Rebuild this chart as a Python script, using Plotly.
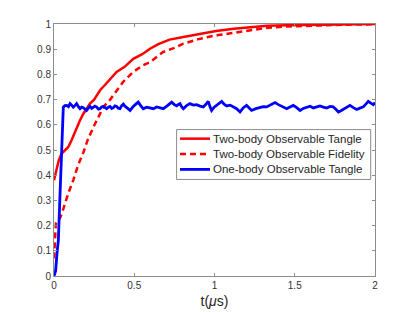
import plotly.graph_objects as go

# Two-body Observable Tangle (solid red)
t_tangle = [0, 0.01, 0.02, 0.03, 0.048, 0.07, 0.089, 0.11, 0.141, 0.16, 0.183, 0.205,
            0.224, 0.25, 0.287, 0.32, 0.35, 0.39, 0.44, 0.494, 0.55, 0.598, 0.65, 0.72,
            0.806, 0.85, 0.91, 1.01, 1.12, 1.22, 1.33, 1.45, 1.6, 1.8, 2.0]
v_tangle = [0.38, 0.41, 0.44, 0.46, 0.486, 0.50, 0.512, 0.54, 0.59, 0.615, 0.644, 0.665,
            0.684, 0.70, 0.737, 0.76, 0.78, 0.81, 0.83, 0.862, 0.88, 0.902, 0.92, 0.938,
            0.948, 0.953, 0.961, 0.972, 0.981, 0.986, 0.993, 0.995, 0.997, 0.998, 1.0]

# Two-body Observable Fidelity (dashed red)
t_fid = [0, 0.005, 0.012, 0.02, 0.037, 0.05, 0.069, 0.09, 0.12, 0.15, 0.183, 0.21, 0.245,
         0.275, 0.307, 0.35, 0.39, 0.43, 0.494, 0.55, 0.6, 0.68, 0.75, 0.806, 0.9, 1.01,
         1.1, 1.2, 1.33, 1.45, 1.6, 1.8, 2.0]
v_fid = [0.07, 0.15, 0.21, 0.222, 0.229, 0.25, 0.289, 0.33, 0.38, 0.44, 0.49, 0.54, 0.59,
         0.63, 0.67, 0.70, 0.737, 0.77, 0.81, 0.835, 0.849, 0.889, 0.905, 0.922, 0.94, 0.955,
         0.963, 0.972, 0.985, 0.99, 0.994, 0.997, 0.999]

# One-body Observable Tangle (solid blue)
t_one = [0, 0.01, 0.02, 0.027, 0.035, 0.042, 0.05, 0.058, 0.068, 0.079, 0.09, 0.100, 0.110,
         0.120, 0.130, 0.141, 0.152, 0.162, 0.172, 0.183, 0.193, 0.203, 0.214, 0.224, 0.235,
         0.245, 0.255, 0.266, 0.277, 0.287, 0.297, 0.307, 0.318, 0.328, 0.339, 0.349, 0.360,
         0.370, 0.380, 0.390, 0.400, 0.411, 0.422, 0.432, 0.442, 0.453, 0.463, 0.474, 0.484,
         0.494, 0.510, 0.525, 0.540, 0.556, 0.577, 0.598, 0.619, 0.640, 0.660, 0.681, 0.707,
         0.733, 0.750, 0.764, 0.775, 0.785, 0.795, 0.806, 0.826, 0.847, 0.868, 0.889, 0.910,
         0.930, 0.945, 0.961, 0.972, 0.982, 0.998, 1.013, 1.030, 1.045, 1.060, 1.076, 1.097,
         1.117, 1.138, 1.159, 1.180, 1.200, 1.215, 1.231, 1.257, 1.283, 1.304, 1.325, 1.351,
         1.377, 1.398, 1.418, 1.434, 1.450, 1.470, 1.491, 1.512, 1.533, 1.553, 1.574, 1.595,
         1.616, 1.636, 1.657, 1.678, 1.699, 1.720, 1.740, 1.756, 1.772, 1.788, 1.803, 1.824,
         1.844, 1.865, 1.886, 1.906, 1.927, 1.943, 1.958, 1.974, 1.990, 2.0]
v_one = [0.0, 0.02, 0.10, 0.14, 0.28, 0.41, 0.55, 0.67, 0.676, 0.677, 0.672, 0.684, 0.678,
         0.670, 0.676, 0.684, 0.672, 0.664, 0.670, 0.668, 0.662, 0.657, 0.666, 0.673, 0.665,
         0.668, 0.674, 0.670, 0.662, 0.664, 0.671, 0.673, 0.668, 0.664, 0.670, 0.673, 0.665,
         0.668, 0.675, 0.673, 0.666, 0.664, 0.676, 0.682, 0.674, 0.670, 0.663, 0.657, 0.666,
         0.673, 0.682, 0.690, 0.676, 0.664, 0.670, 0.668, 0.664, 0.671, 0.667, 0.664, 0.676,
         0.690, 0.680, 0.675, 0.681, 0.684, 0.672, 0.664, 0.676, 0.684, 0.678, 0.680, 0.674,
         0.671, 0.680, 0.693, 0.672, 0.657, 0.670, 0.677, 0.686, 0.693, 0.682, 0.675, 0.678,
         0.671, 0.664, 0.651, 0.668, 0.677, 0.668, 0.657, 0.664, 0.667, 0.672, 0.671, 0.680,
         0.688, 0.680, 0.675, 0.668, 0.664, 0.671, 0.677, 0.668, 0.657, 0.665, 0.671, 0.674,
         0.667, 0.672, 0.675, 0.670, 0.667, 0.673, 0.671, 0.662, 0.651, 0.656, 0.661, 0.670,
         0.677, 0.668, 0.661, 0.666, 0.671, 0.682, 0.693, 0.686, 0.680, 0.688]

x_ticks = [0, 0.5, 1, 1.5, 2]
x_labels = ["0", "0.5", "1", "1.5", "2"]
y_ticks = [0, 0.1, 0.2, 0.3, 0.4, 0.5, 0.6, 0.7, 0.8, 0.9, 1]
y_labels = ["0", "0.1", "0.2", "0.3", "0.4", "0.5", "0.6", "0.7", "0.8", "0.9", "1"]

series_names = ["Two-body Observable Tangle", "Two-body Observable Fidelity",
                "One-body Observable Tangle"]
series_colors = ["#ff0000", "#ff0000", "#0000ff"]
series_dash = ["solid", "6px,4px", "solid"]
series_width = [2.5, 2.5, 2.8]
series_x = [t_tangle, t_fid, t_one]
series_y = [v_tangle, v_fid, v_one]

FONT = "Liberation Sans, Arial, sans-serif"

fig = go.Figure()
for name, xs, ys, c, d, w in zip(series_names, series_x, series_y, series_colors,
                                 series_dash, series_width):
    fig.add_trace(go.Scatter(x=xs, y=ys, mode="lines", name=name, showlegend=False,
                             line=dict(color=c, width=w, dash=d)))

# legend box (drawn manually to match the compact MATLAB legend)
shapes = [dict(type="rect", xref="paper", yref="paper", x0=0.382, x1=0.9866,
               y0=0.383, y1=0.581, line=dict(color="#8c8c8c", width=1),
               fillcolor="white", layer="above")]
annotations = []
row_y = [0.545, 0.484, 0.423]
for name, c, d, w, ry in zip(series_names, series_colors, series_dash, series_width, row_y):
    shapes.append(dict(type="line", xref="paper", yref="paper", x0=0.3925, x1=0.486,
                       y0=ry, y1=ry, line=dict(color=c, width=w, dash=d), layer="above"))
    annotations.append(dict(text=name, xref="paper", yref="paper", x=0.490, y=ry,
                            xanchor="left", yanchor="middle", showarrow=False,
                            font=dict(family=FONT, size=11.5, color="#262626")))

axis_common = dict(showgrid=False, zeroline=False, showline=True, linecolor="#8c8c8c",
                   linewidth=1, mirror="ticks", ticks="inside", ticklen=3,
                   tickcolor="#8c8c8c", automargin=False,
                   tickfont=dict(family=FONT, size=10, color="#333333"))

fig.update_layout(
    width=407, height=304,
    margin=dict(l=46, r=40, t=15.5, b=36),
    paper_bgcolor="white", plot_bgcolor="white",
    xaxis=dict(range=[0, 2], tickvals=x_ticks, ticktext=x_labels,
               title=dict(text="t(<i>μ</i>s)", standoff=6,
                          font=dict(family=FONT, size=14, color="#262626")),
               **axis_common),
    yaxis=dict(range=[0, 1], tickvals=y_ticks, ticktext=y_labels, **axis_common),
    shapes=shapes,
    annotations=annotations,
    showlegend=False,
)

fig.write_html("out.html")
